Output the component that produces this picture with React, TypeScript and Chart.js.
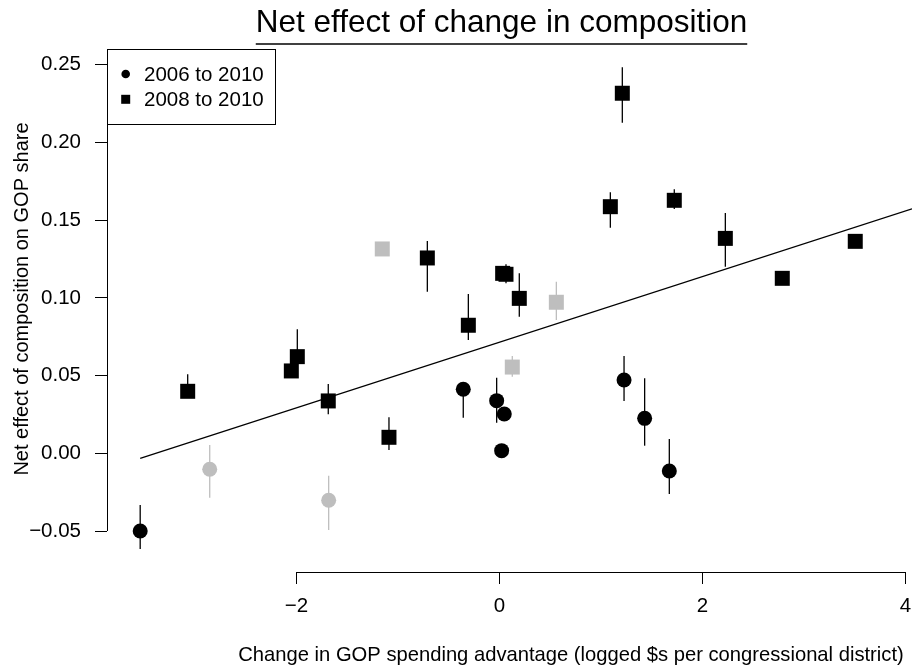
import React, { useEffect, useRef } from "react";
import { Chart, registerables } from "chart.js";

Chart.register(...registerables);

const FONT = '"Liberation Sans", Arial, Helvetica, sans-serif';
const GREY = "#BEBEBE";

// ---- text ----
const titleText = "Net effect of change in composition";
const xTitle = "Change in GOP spending advantage (logged $s per congressional district)";
const yTitle = "Net effect of composition on GOP share";
const legendLabels = ["2006 to 2010", "2008 to 2010"];

// ---- ticks ----
const xTicks = [-2, 0, 2, 4];
const xTickLabels = ["\u22122", "0", "2", "4"];
const yTicks = [-0.05, 0, 0.05, 0.1, 0.15, 0.2, 0.25];
const yTickLabels = ["\u22120.05", "0.00", "0.05", "0.10", "0.15", "0.20", "0.25"];

// ---- 2006 to 2010 (circles), black ----
const c06X = [-3.54, -0.357, -0.028, 0.047, 0.021, 1.227, 1.43, 1.673];
const c06Y = [-0.05, 0.0412, 0.0339, 0.0253, 0.0017, 0.0472, 0.0225, -0.0114];
const c06Lo = [-0.0616, 0.0229, 0.0197, 0.0253, 0.0017, 0.0337, 0.0049, -0.0262];
const c06Hi = [-0.0333, 0.045, 0.0487, 0.0253, 0.0017, 0.0626, 0.0483, 0.0092];

// ---- 2006 to 2010 (circles), grey ----
const g06X = [-2.855, -1.683];
const g06Y = [-0.0103, -0.0302];
const g06Lo = [-0.0286, -0.0494];
const g06Hi = [0.0053, -0.0144];

// ---- 2008 to 2010 (squares), black ----
const s08X = [-3.072, -2.051, -1.992, -1.687, -1.089, -0.711, -0.307, 0.031, 0.064, 0.195, 1.092, 1.21, 1.722, 2.225, 2.786, 3.505];
const s08Y = [0.0399, 0.053, 0.0622, 0.0337, 0.0103, 0.1257, 0.0824, 0.1158, 0.1152, 0.0997, 0.1587, 0.2317, 0.1628, 0.1383, 0.1126, 0.1364];
const s08Lo = [0.036, 0.053, 0.05, 0.0251, 0.0021, 0.104, 0.0729, 0.1158, 0.1094, 0.0879, 0.1452, 0.2127, 0.1572, 0.1201, 0.1126, 0.1364];
const s08Hi = [0.0508, 0.053, 0.0798, 0.0446, 0.0232, 0.1366, 0.1025, 0.1158, 0.1216, 0.1158, 0.168, 0.2484, 0.17, 0.1546, 0.1126, 0.1364];

// ---- 2008 to 2010 (squares), grey ----
const g08X = [-1.155, 0.126, 0.56];
const g08Y = [0.1315, 0.0555, 0.0972];
const g08Lo = [0.1315, 0.0493, 0.0858];
const g08Hi = [0.1315, 0.0626, 0.1104];

// ---- fitted line ----
const fitX = [-3.54, 4.064];
const fitY = [-0.0032, 0.1573];

const pts = (xs: number[], ys: number[]) => xs.map((x, i) => ({ x, y: ys[i] }));

const errorGroups = [
  { xs: g06X, lo: g06Lo, hi: g06Hi, color: GREY },
  { xs: g08X, lo: g08Lo, hi: g08Hi, color: GREY },
  { xs: c06X, lo: c06Lo, hi: c06Hi, color: "#000" },
  { xs: s08X, lo: s08Lo, hi: s08Hi, color: "#000" },
];

const decorPlugin = {
  id: "decor",
  beforeDatasetsDraw(chart: any) {
    const { ctx, chartArea, scales } = chart;
    const x = scales.x;
    const y = scales.y;
    ctx.save();
    // axis lines (only across the tick range)
    ctx.strokeStyle = "#000";
    ctx.lineWidth = 1;
    ctx.beginPath();
    const ax = Math.round(chartArea.left) + 0.5;
    ctx.moveTo(ax, y.getPixelForValue(yTicks[0]));
    ctx.lineTo(ax, y.getPixelForValue(yTicks[yTicks.length - 1]));
    const ay = Math.round(chartArea.bottom) + 0.5;
    ctx.moveTo(x.getPixelForValue(xTicks[0]), ay);
    ctx.lineTo(x.getPixelForValue(xTicks[xTicks.length - 1]), ay);
    ctx.stroke();
    // error bars
    ctx.lineWidth = 1.3;
    errorGroups.forEach((g) => {
      ctx.strokeStyle = g.color;
      g.xs.forEach((xv, i) => {
        if (g.hi[i] === g.lo[i]) return;
        const px = x.getPixelForValue(xv);
        ctx.beginPath();
        ctx.moveTo(px, y.getPixelForValue(g.lo[i]));
        ctx.lineTo(px, y.getPixelForValue(g.hi[i]));
        ctx.stroke();
      });
    });
    ctx.restore();
  },
  afterDraw(chart: any) {
    const { ctx } = chart;
    ctx.save();
    ctx.fillStyle = "#000";
    ctx.strokeStyle = "#000";
    // title with underline
    ctx.font = `31.5px ${FONT}`;
    ctx.textAlign = "center";
    ctx.textBaseline = "alphabetic";
    const tcx = 501.5;
    ctx.fillText(titleText, tcx, 32);
    const tw = ctx.measureText(titleText).width;
    ctx.lineWidth = 1.5;
    ctx.beginPath();
    ctx.moveTo(tcx - tw / 2, 44);
    ctx.lineTo(tcx + tw / 2, 44);
    ctx.stroke();
    // x title
    ctx.font = `20.2px ${FONT}`;
    ctx.fillText(xTitle, 571, 661);
    // y title
    ctx.font = `20px ${FONT}`;
    ctx.save();
    ctx.translate(28, 299);
    ctx.rotate(-Math.PI / 2);
    ctx.fillText(yTitle, 0, 0);
    ctx.restore();
    // legend
    ctx.font = `20.5px ${FONT}`;
    ctx.lineWidth = 1;
    ctx.strokeRect(107.5, 49.5, 168, 75);
    ctx.beginPath();
    ctx.arc(125.7, 74, 4.3, 0, Math.PI * 2);
    ctx.fill();
    ctx.fillRect(125.7 - 4.5, 99.3 - 4.5, 9, 9);
    ctx.textAlign = "left";
    ctx.textBaseline = "middle";
    ctx.fillText(legendLabels[0], 144, 75);
    ctx.fillText(legendLabels[1], 144, 100);
    ctx.restore();
  },
};

export default function App() {
  const ref = useRef<HTMLCanvasElement | null>(null);
  useEffect(() => {
    if (!ref.current) return;
    const tickFont = { family: FONT, size: 20.5 };
    const chart = new Chart(ref.current, {
      type: "scatter",
      data: {
        datasets: [
          {
            label: "fit",
            data: pts(fitX, fitY),
            showLine: true,
            borderColor: "#000",
            borderWidth: 1.3,
            pointRadius: 0,
            order: 5,
          } as any,
          {
            label: legendLabels[0] + " grey",
            data: pts(g06X, g06Y),
            pointStyle: "circle",
            pointRadius: 7.5,
            backgroundColor: GREY,
            pointBorderWidth: 0,
            borderWidth: 0,
            order: 4,
          },
          {
            label: legendLabels[1] + " grey",
            data: pts(g08X, g08Y),
            pointStyle: "rect",
            pointRadius: 10.6,
            backgroundColor: GREY,
            pointBorderWidth: 0,
            borderWidth: 0,
            order: 3,
          },
          {
            label: legendLabels[0],
            data: pts(c06X, c06Y),
            pointStyle: "circle",
            pointRadius: 7.5,
            backgroundColor: "#000",
            pointBorderWidth: 0,
            borderWidth: 0,
            order: 2,
          },
          {
            label: legendLabels[1],
            data: pts(s08X, s08Y),
            pointStyle: "rect",
            pointRadius: 10.6,
            backgroundColor: "#000",
            pointBorderWidth: 0,
            borderWidth: 0,
            order: 1,
          },
        ],
      },
      options: {
        animation: false,
        responsive: false,
        devicePixelRatio: 1,
        events: [],
        layout: { autoPadding: false, padding: { top: 30, right: 1, left: 0, bottom: 0 } },
        plugins: {
          legend: { display: false },
          tooltip: { enabled: false },
          title: { display: false },
        },
        scales: {
          x: {
            type: "linear",
            min: -3.867,
            max: 4.064,
            afterBuildTicks: (s: any) => {
              s.ticks = xTicks.map((v) => ({ value: v }));
            },
            afterFit: (s: any) => {
              s.height = 97;
              s.paddingLeft = 0;
              s.paddingRight = 0;
            },
            ticks: {
              color: "#000",
              font: { ...tickFont, lineHeight: 2.2 },
              padding: 0,
              maxRotation: 0,
              autoSkip: false,
              callback: (_v: any, i: number) => xTickLabels[i],
            },
            grid: {
              display: true,
              drawOnChartArea: false,
              drawTicks: true,
              tickLength: 12,
              color: "#000",
              lineWidth: 1,
            },
            border: { display: false },
          },
          y: {
            type: "linear",
            min: -0.07638,
            max: 0.2724,
            afterBuildTicks: (s: any) => {
              s.ticks = yTicks.map((v) => ({ value: v }));
            },
            afterFit: (s: any) => {
              s.width = 107;
              s.paddingTop = 0;
              s.paddingBottom = 0;
            },
            ticks: {
              color: "#000",
              font: tickFont,
              padding: 14,
              autoSkip: false,
              callback: (_v: any, i: number) => yTickLabels[i],
            },
            grid: {
              display: true,
              drawOnChartArea: false,
              drawTicks: true,
              tickLength: 12,
              color: "#000",
              lineWidth: 1,
            },
            border: { display: false },
          },
        },
      },
      plugins: [decorPlugin],
    });
    return () => chart.destroy();
  }, []);
  return (
    <div style={{ position: "absolute", left: 0, top: 0, width: 913, height: 669, background: "#fff" }}>
      <canvas ref={ref} width={913} height={669} style={{ display: "block" }} />
    </div>
  );
}
